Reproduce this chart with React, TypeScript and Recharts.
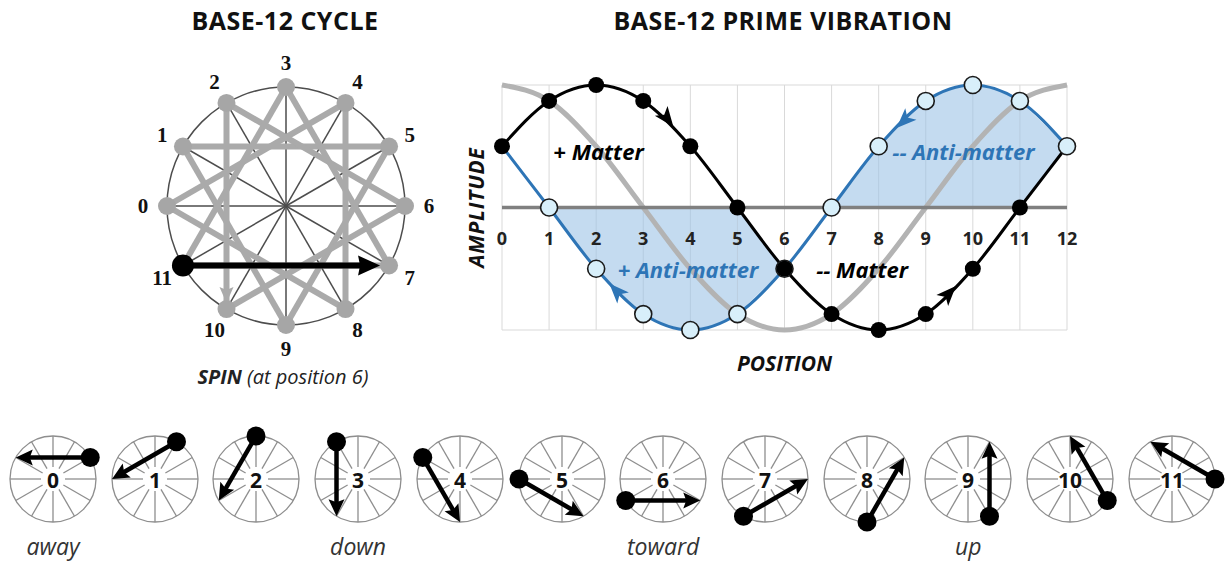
import React from "react";
import {
  Area,
  CartesianGrid,
  ComposedChart,
  Line,
  PolarAngleAxis,
  PolarGrid,
  PolarRadiusAxis,
  Radar,
  RadarChart,
  ReferenceDot,
  ReferenceLine,
  XAxis,
  YAxis,
} from "recharts";

// ---- data ----
const positions = [0, 1, 2, 3, 4, 5, 6, 7, 8, 9, 10, 11, 12];
const matter = [0.5, 0.87, 1, 0.87, 0.5, 0, -0.5, -0.87, -1, -0.87, -0.5, 0, 0.5];
const antiMatter = [0.5, 0, -0.5, -0.87, -1, -0.87, -0.5, 0, 0.5, 0.87, 1, 0.87, 0.5];
const carrier = [1, 0.87, 0.5, 0, -0.5, -0.87, -1, -0.87, -0.5, 0, 0.5, 0.87, 1];
const amplitudeTicks = [-1, -0.5, 0, 0.5, 1];

const curveArrows = [
  { from: { x: 3.4, y: 0.78 }, to: { x: 3.64, y: 0.66 }, color: "#000" },
  { from: { x: 9.35, y: -0.76 }, to: { x: 9.64, y: -0.64 }, color: "#000" },
  { from: { x: 2.6, y: -0.75 }, to: { x: 2.28, y: -0.62 }, color: "#2e75b6" },
  { from: { x: 8.7, y: 0.77 }, to: { x: 8.38, y: 0.65 }, color: "#2e75b6" },
];

const curveLabels = [
  { x: 2.05, y: 0.46, text: "+ Matter", color: "#000" },
  { x: 9.8, y: 0.46, text: "-- Anti-matter", color: "#2e75b6" },
  { x: 3.95, y: -0.5, text: "+ Anti-matter", color: "#2e75b6" },
  { x: 7.65, y: -0.5, text: "-- Matter", color: "#000" },
];

const cycleLabels = ["0", "1", "2", "3", "4", "5", "6", "7", "8", "9", "10", "11"];
const starStep = 4;
const spinFrom = 11;
const spinTo = 7;

const clockTail = [5, 4, 3, 2, 1, 0, 11, 10, 9, 8, 7, 6];
const clockHead = [1, 0, 11, 10, 9, 8, 7, 6, 5, 4, 3, 2];
const clockCaptions = ["away", "", "", "down", "", "", "toward", "", "", "up", "", ""];

// ---- styles ----
const SANS = "'Open Sans', 'Noto Sans', sans-serif";
const SERIF = "'Liberation Serif', 'DejaVu Serif', serif";
const BLUE = "#2e75b6";
const FILL = "#9dc3e6";

// shaded regions: blue curve against the zero line, then against the black curve
const waveData = positions.map((x, i) => {
  const m = matter[i];
  const a = antiMatter[i];
  return {
    x,
    matter: m,
    anti: a,
    carrier: carrier[i],
    lowZero: a <= 0 && m >= 0 ? [a, 0] : null,
    lowMatter: a <= m && m <= 0 ? [a, m] : null,
    highZero: a >= 0 && m <= 0 ? [0, a] : null,
    highMatter: i > 0 && a >= m && m >= 0 ? [m, a] : null,
  };
});

const cycleData = cycleLabels.map((label) => ({ label, r: 1 }));

function headPoints(tx: number, ty: number, fx: number, fy: number, len: number, half: number, notch: number) {
  const dx = tx - fx;
  const dy = ty - fy;
  const d = Math.hypot(dx, dy) || 1;
  const ux = dx / d;
  const uy = dy / d;
  const bx = tx - ux * len;
  const by = ty - uy * len;
  const mx = tx - ux * (len - notch);
  const my = ty - uy * (len - notch);
  return `${tx},${ty} ${bx - uy * half},${by + ux * half} ${mx},${my} ${bx + uy * half},${by - ux * half}`;
}

function PositionTick(props: any) {
  const { x, y, payload } = props;
  return (
    <text x={x} y={y - 92} textAnchor="middle" dominantBaseline="central" fontFamily={SANS} fontWeight={700} fontSize={18} fill="#222">
      {payload.value}
    </text>
  );
}

function AmplitudeLabel(props: any) {
  const vb = props.viewBox;
  const cx = vb.x + 4;
  const cy = vb.y + vb.height / 2;
  return (
    <text x={cx} y={cy} transform={`rotate(-90 ${cx} ${cy})`} textAnchor="middle" dominantBaseline="central" fontFamily={SANS} fontStyle="italic" fontWeight={700} fontSize={21} letterSpacing={0.8} fill="#111">
      AMPLITUDE
    </text>
  );
}

function PositionLabel(props: any) {
  const vb = props.viewBox;
  return (
    <text x={vb.x + vb.width / 2} y={vb.y + 33} textAnchor="middle" dominantBaseline="central" fontFamily={SANS} fontStyle="italic" fontWeight={700} fontSize={21} fill="#111">
      POSITION
    </text>
  );
}

function MatterDot(props: any) {
  const { cx, cy, index } = props;
  if (index === positions.length - 1) return <g key={`m${index}`} />;
  return <circle key={`m${index}`} cx={cx} cy={cy} r={8} fill="#000" />;
}

function AntiDot(props: any) {
  const { cx, cy, index } = props;
  if (index === 0) return <g key={`a${index}`} />;
  return <circle key={`a${index}`} cx={cx} cy={cy} r={8.5} fill="#d8effa" stroke="#1a1a1a" strokeWidth={1.6} />;
}

function CycleTick(props: any) {
  const { x, y, payload } = props;
  return (
    <text x={x} y={y} textAnchor="middle" dominantBaseline="central" fontFamily={SERIF} fontWeight={700} fontSize={21} fill="#111">
      {payload.value}
    </text>
  );
}

function StarShape(props: any) {
  const pts = props.points || [];
  if (!pts.length) return <g />;
  const n = pts.length;
  const a = pts[spinFrom];
  const b = pts[spinTo];
  const d = Math.hypot(b.x - a.x, b.y - a.y);
  const ux = (b.x - a.x) / d;
  const uy = (b.y - a.y) / d;
  const tipX = b.x - ux * 9;
  const tipY = b.y - uy * 9;
  const g2 = pts[2];
  const g10 = pts[10];
  const gd = Math.hypot(g10.x - g2.x, g10.y - g2.y);
  const gtx = g10.x - ((g10.x - g2.x) / gd) * 6;
  const gty = g10.y - ((g10.y - g2.y) / gd) * 6;
  return (
    <g>
      {pts.map((p: any, i: number) => {
        const q = pts[(i + starStep) % n];
        return <line key={`s${i}`} x1={p.x} y1={p.y} x2={q.x} y2={q.y} stroke="#aaaaaa" strokeWidth={6} />;
      })}
      <polygon points={headPoints(gtx, gty, g2.x, g2.y, 16, 7, 3)} fill="#aaaaaa" />
      {pts.map((p: any, i: number) =>
        i === spinFrom ? null : <circle key={`c${i}`} cx={p.x} cy={p.y} r={9} fill="#a6a6a6" />
      )}
      <line x1={a.x} y1={a.y} x2={tipX - ux * 16} y2={tipY - uy * 16} stroke="#000" strokeWidth={6} />
      <polygon points={headPoints(tipX, tipY, a.x, a.y, 22, 10, 2)} fill="#000" />
      <circle cx={a.x} cy={a.y} r={11} fill="#000" />
    </g>
  );
}

function makeClockShape(k: number) {
  return function ClockShape(props: any) {
    const pts = props.points || [];
    if (!pts.length) return <g />;
    const cx = pts[0].cx;
    const cy = pts[0].cy;
    const t = pts[clockTail[k]];
    const h = pts[clockHead[k]];
    const d = Math.hypot(h.x - t.x, h.y - t.y);
    const ux = (h.x - t.x) / d;
    const uy = (h.y - t.y) / d;
    return (
      <g>
        <text x={cx} y={cy + 1} textAnchor="middle" dominantBaseline="central" fontFamily={SANS} fontWeight={700} fontSize={21} fill="#111">
          {cycleLabels[k]}
        </text>
        <line x1={t.x} y1={t.y} x2={h.x - ux * 12} y2={h.y - uy * 12} stroke="#000" strokeWidth={4.5} />
        <polygon points={headPoints(h.x, h.y, t.x, t.y, 17, 8, 3)} fill="#000" />
        <circle cx={t.x} cy={t.y} r={9.5} fill="#000" />
      </g>
    );
  };
}

const clockShapes = cycleLabels.map((_, k) => makeClockShape(k));

function Clock({ k }: { k: number }) {
  return (
    <RadarChart
      width={120}
      height={120}
      cx={60}
      cy={60}
      innerRadius={12}
      outerRadius={43}
      startAngle={180}
      endAngle={-180}
      data={cycleData}
      margin={{ top: 0, right: 0, bottom: 0, left: 0 }}
    >
      <PolarGrid gridType="circle" polarRadius={[43]} stroke="#8e8e8e" strokeWidth={1.3} />
      <PolarAngleAxis dataKey="label" tick={false} tickLine={false} axisLine={false} />
      <PolarRadiusAxis domain={[0, 1]} tick={false} axisLine={false} />
      <Radar dataKey="r" isAnimationActive={false} shape={clockShapes[k]} />
    </RadarChart>
  );
}

const titleStyle: React.CSSProperties = {
  position: "absolute",
  top: 5,
  textAlign: "center",
  fontFamily: SANS,
  fontWeight: 700,
  fontSize: 25,
  letterSpacing: 0.5,
  lineHeight: "30px",
  color: "#111",
};

export default function App() {
  const clockStart = 53;
  const clockGap = 101.7;
  return (
    <div style={{ position: "absolute", left: 0, top: 0, width: 1225, height: 562, background: "#fff", overflow: "hidden" }}>
      <div style={{ ...titleStyle, left: 110, width: 350 }}>BASE-12 CYCLE</div>
      <div style={{ ...titleStyle, left: 563, width: 440 }}>BASE-12 PRIME VIBRATION</div>

      <div style={{ position: "absolute", left: 116, top: 36 }}>
        <RadarChart
          width={340}
          height={340}
          cx={170}
          cy={170}
          outerRadius={119}
          startAngle={180}
          endAngle={-180}
          data={cycleData}
          margin={{ top: 0, right: 0, bottom: 0, left: 0 }}
        >
          <PolarGrid gridType="circle" polarRadius={[119]} stroke="#4d4d4d" strokeWidth={1.5} />
          <PolarAngleAxis dataKey="label" tick={CycleTick} tickLine={false} axisLine={false} tickSize={24} />
          <PolarRadiusAxis domain={[0, 1]} tick={false} axisLine={false} />
          <Radar dataKey="r" isAnimationActive={false} shape={StarShape} />
        </RadarChart>
      </div>
      <div style={{ position: "absolute", left: 133, top: 364, width: 300, textAlign: "center", fontFamily: SANS, fontStyle: "italic", fontSize: 20, lineHeight: "26px", color: "#222" }}>
        <b>SPIN</b> (at position 6)
      </div>

      <div style={{ position: "absolute", left: 440, top: 60 }}>
        <ComposedChart width={640} height={330} data={waveData} margin={{ top: 25, right: 13, bottom: 0, left: 32 }}>
          <CartesianGrid stroke="#d9d9d9" strokeWidth={1} />
          <XAxis
            dataKey="x"
            type="number"
            domain={[0, 12]}
            ticks={positions}
            interval={0}
            axisLine={false}
            tickLine={false}
            tickSize={0}
            tickMargin={0}
            height={60}
            tick={PositionTick}
            label={{ content: PositionLabel }}
          />
          <YAxis
            type="number"
            domain={[-1, 1]}
            ticks={amplitudeTicks}
            tick={false}
            axisLine={false}
            tickLine={false}
            width={30}
            label={{ content: AmplitudeLabel }}
          />
          <Line dataKey="carrier" type="monotone" stroke="#b3b3b3" strokeWidth={5} dot={false} isAnimationActive={false} />
          <Area dataKey="lowZero" type="monotone" stroke="none" fill={FILL} fillOpacity={0.6} isAnimationActive={false} />
          <Area dataKey="lowMatter" type="monotone" stroke="none" fill={FILL} fillOpacity={0.6} isAnimationActive={false} />
          <Area dataKey="highZero" type="monotone" stroke="none" fill={FILL} fillOpacity={0.6} isAnimationActive={false} />
          <Area dataKey="highMatter" type="monotone" stroke="none" fill={FILL} fillOpacity={0.6} isAnimationActive={false} />
          <ReferenceLine y={0} stroke="#808080" strokeWidth={3.5} />
          <Line dataKey="anti" type="monotone" stroke={BLUE} strokeWidth={3} dot={AntiDot} isAnimationActive={false} />
          <Line dataKey="matter" type="monotone" stroke="#000" strokeWidth={3} dot={MatterDot} isAnimationActive={false} />
          {curveArrows.map((a, i) => (
            <ReferenceLine
              key={`ar${i}`}
              segment={[a.from, a.to]}
              shape={(p: any) => <polygon points={headPoints(p.x2, p.y2, p.x1, p.y1, 20, 8, 5)} fill={a.color} />}
            />
          ))}
          {curveLabels.map((l, i) => (
            <ReferenceDot
              key={`lb${i}`}
              x={l.x}
              y={l.y}
              r={0}
              shape={(p: any) => (
                <text x={p.cx} y={p.cy} textAnchor="middle" dominantBaseline="central" fontFamily={SANS} fontStyle="italic" fontWeight={700} fontSize={22} fill={l.color}>
                  {l.text}
                </text>
              )}
            />
          ))}
        </ComposedChart>
      </div>

      {cycleLabels.map((_, k) => (
        <div key={`clk${k}`} style={{ position: "absolute", left: clockStart + k * clockGap - 60, top: 419 }}>
          <Clock k={k} />
        </div>
      ))}
      {clockCaptions.map((c, k) =>
        c ? (
          <div key={`cap${k}`} style={{ position: "absolute", left: clockStart + k * clockGap - 60, top: 532, width: 120, textAlign: "center", fontFamily: SANS, fontStyle: "italic", fontSize: 23, lineHeight: "28px", color: "#333" }}>
            {c}
          </div>
        ) : null
      )}
    </div>
  );
}
